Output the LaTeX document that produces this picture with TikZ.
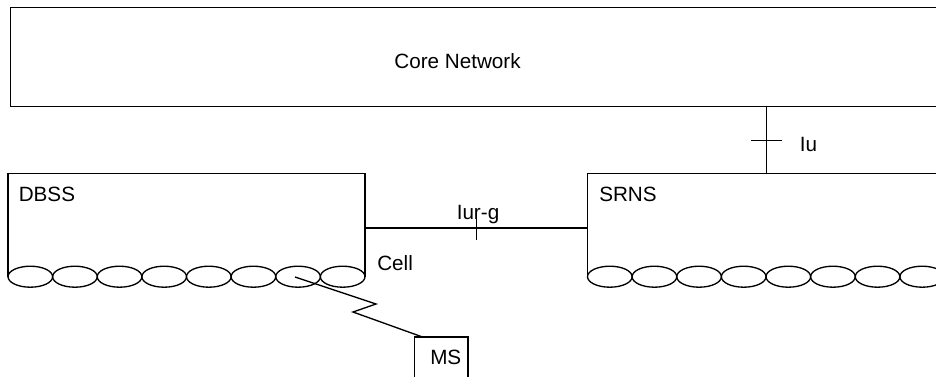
\documentclass[tikz,border=0pt]{standalone}
\usepackage{fontspec}
\setmainfont{Liberation Sans}
\begin{document}
\begin{tikzpicture}[x=0.75pt,y=-0.75pt,
  ln/.style={line width=1pt, line join=miter},
  lbl/.style={inner sep=0pt, anchor=base west, font=\fontsize{15.5}{18}\selectfont}]
\useasboundingbox (0,0) rectangle (936,376);
% Core network
\draw[ln] (960,7.5) -- (10.5,7.5) -- (10.5,106.5) -- (960,106.5);
\node[lbl, anchor=base] (core) at (457.5,68) {Core Network};
% DBSS
\coordinate (dbssTL) at (8,173.5);
\coordinate (dbssTR) at (365,173.5);
\draw[ln] (8,276.7) -- (dbssTL) -- (dbssTR) -- (365,276.7);
\foreach \i in {0,...,7}
  \draw[ln] ({8+22.31+44.625*\i},276.7) ellipse [x radius=22.31, y radius=10.5];
\node[lbl] (dbss) at (18.5,201.5) {DBSS};
\node[lbl] (cell) at (377,270.5) {Cell};
% SRNS
\coordinate (srnsTL) at (587.5,173.5);
\draw[ln] (587.5,276.7) -- (srnsTL) -- (960,173.5);
\foreach \i in {0,...,7}
  \draw[ln] ({587.5+22.31+44.625*\i},276.7) ellipse [x radius=22.31, y radius=10.5];
\node[lbl] (srns) at (599,201) {SRNS};
% Iur-g
\coordinate (iurA) at (365,228);
\coordinate (iurB) at (587.5,228);
\draw[ln] (iurA) -- (iurB);
\coordinate (t1) at (476.7,215);
\coordinate (t2) at (476.7,239.5);
\draw[ln] (t1) -- (t2);
\node[lbl, anchor=base] (iurg) at (478,219.5) {Iur-g};
% Iu
\coordinate (iuA) at (766.7,106.5);
\coordinate (iuB) at (766.7,173.5);
\draw[ln] (iuA) -- (iuB);
\coordinate (u1) at (751,140.7);
\coordinate (u2) at (782,140.7);
\draw[ln] (u1) -- (u2);
\node[lbl] (iu) at (799.5,151) {Iu};
% MS
\draw[ln] (414.5,390) -- (414.5,337) -- (468,337) -- (468,390);
\node[lbl] (ms) at (430,364) {MS};
% radio link
\coordinate (z0) at (295,277);
\coordinate (z1) at (376,304);
\coordinate (z2) at (353,312);
\coordinate (z3) at (421.7,336.7);
\draw[ln] (z0) -- (z1) -- (z2) -- (z3);
\end{tikzpicture}
\end{document}
